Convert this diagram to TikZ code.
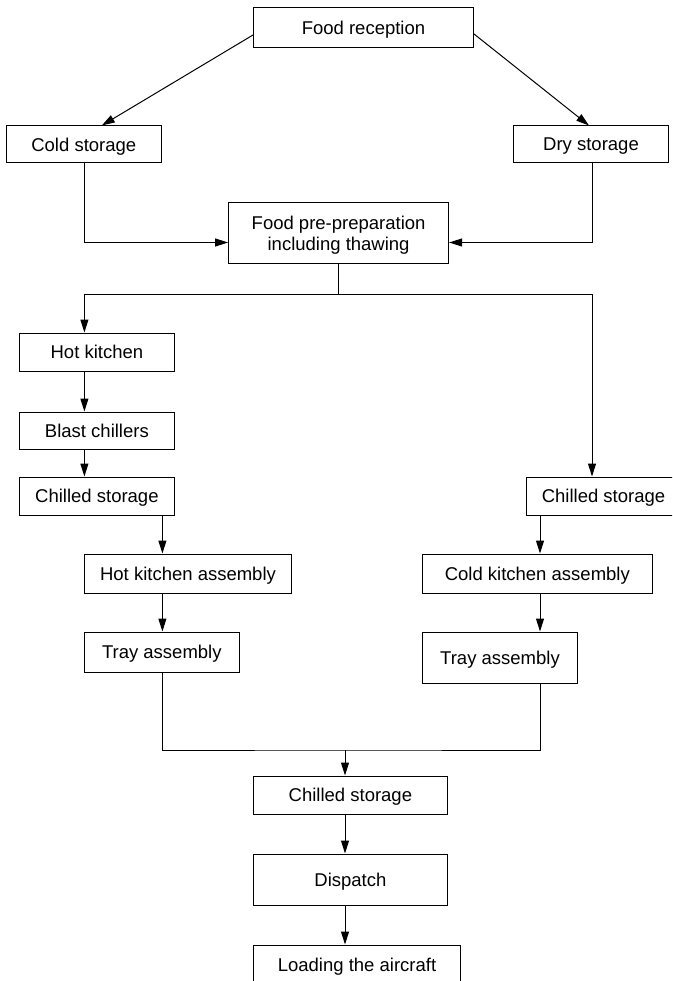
\documentclass[tikz,border=0pt]{standalone}
\usepackage{fontspec}
\setmainfont{Liberation Sans}
\usetikzlibrary{arrows.meta}
\tikzset{
  boxnode/.style={draw, line width=1pt, inner sep=0pt, align=center, text depth=0pt,
    font=\fontsize{18.5}{21}\selectfont},
  arr/.style={line width=1pt, -{Triangle[length=13pt,width=8pt]}},
  ln/.style={line width=1pt}
}
\begin{document}
\begin{tikzpicture}[x=1pt,y=-1pt]
\clip (0,0) rectangle (672,981);
\node[boxnode, minimum width=220pt, minimum height=40pt] (rec) at (363.5,28) {Food reception};
\node[boxnode, minimum width=155pt, minimum height=37pt] (cold) at (83.8,144.5) {Cold storage};
\node[boxnode, minimum width=155pt, minimum height=37pt] (dry) at (591,144.5) {Dry storage};
\node[boxnode, minimum width=220pt, minimum height=61pt] (prep) at (338.6,233.5) {Food pre-preparation\\including thawing};
\node[boxnode, minimum width=155pt, minimum height=38pt] (hot) at (96.9,352) {Hot kitchen};
\node[boxnode, minimum width=155pt, minimum height=37pt] (blast) at (96.9,430.5) {Blast chillers};
\node[boxnode, minimum width=155pt, minimum height=38pt] (chillL) at (96.9,496) {Chilled storage};
\node[boxnode, minimum width=155pt, minimum height=38pt] (chillR) at (603.5,496) {Chilled storage};
\node[boxnode, minimum width=207pt, minimum height=39pt] (hka) at (188,573.5) {Hot kitchen assembly};
\node[boxnode, minimum width=229.4pt, minimum height=39pt] (cka) at (537.3,573.5) {Cold kitchen assembly};
\node[boxnode, minimum width=155pt, minimum height=40pt] (trayL) at (161.8,652) {Tray assembly};
\node[boxnode, minimum width=155pt, minimum height=51pt] (trayR) at (500,657.5) {Tray assembly};
\node[boxnode, minimum width=194.2pt, minimum height=38pt] (chillB) at (350.4,795) {Chilled storage};
\node[boxnode, minimum width=194.2pt, minimum height=51pt] (disp) at (350.4,879.5) {Dispatch};
\node[boxnode, minimum width=207.5pt, minimum height=40pt] (load) at (357,965) {Loading the aircraft};
% top arrows
\draw[arr] ([yshift=-7pt]rec.west) -- ([xshift=18pt]cold.north);
\draw[arr] ([yshift=-6pt]rec.east) -- ([xshift=-2pt]dry.north);
\draw[arr] ([xshift=0.6pt]cold.south) |- ([yshift=-9pt]prep.west);
\draw[arr] ([xshift=1pt]dry.south) |- ([yshift=-9pt]prep.east);
% split
\coordinate (sp) at (338.6,294);
\draw[ln] (prep.south) -- (sp);
\draw[arr] (sp) -| ([xshift=-12.5pt]hot.north);
\draw[arr] (sp) -| ([xshift=-11.5pt]chillR.north);
% left column
\draw[arr] ([xshift=-12.5pt]hot.south) -- ([xshift=-12.5pt]blast.north);
\draw[arr] ([xshift=-12.5pt]blast.south) -- ([xshift=-12.5pt]chillL.north);
\draw[arr] ([xshift=65.5pt]chillL.south) -- ([xshift=65.5pt]chillL.south |- hka.north);
\draw[arr] ([xshift=0.6pt]trayL.north |- hka.south) -- ([xshift=0.6pt]trayL.north);
% right column
\draw[arr] ([xshift=2.7pt]cka.north |- chillR.south) -- ([xshift=2.7pt]cka.north);
\draw[arr] ([xshift=40pt]trayR.north |- cka.south) -- ([xshift=40pt]trayR.north);
% merge
\coordinate (mg) at (345,750);
\draw[ln] ([xshift=0.6pt]trayL.south) |- (mg) -| ([xshift=40pt]trayR.south);
\draw[arr] (mg) -- (mg |- chillB.north);
\draw[arr] (mg |- chillB.south) -- (mg |- disp.north);
\draw[arr] (mg |- disp.south) -- (mg |- load.north);
\end{tikzpicture}
\end{document}
